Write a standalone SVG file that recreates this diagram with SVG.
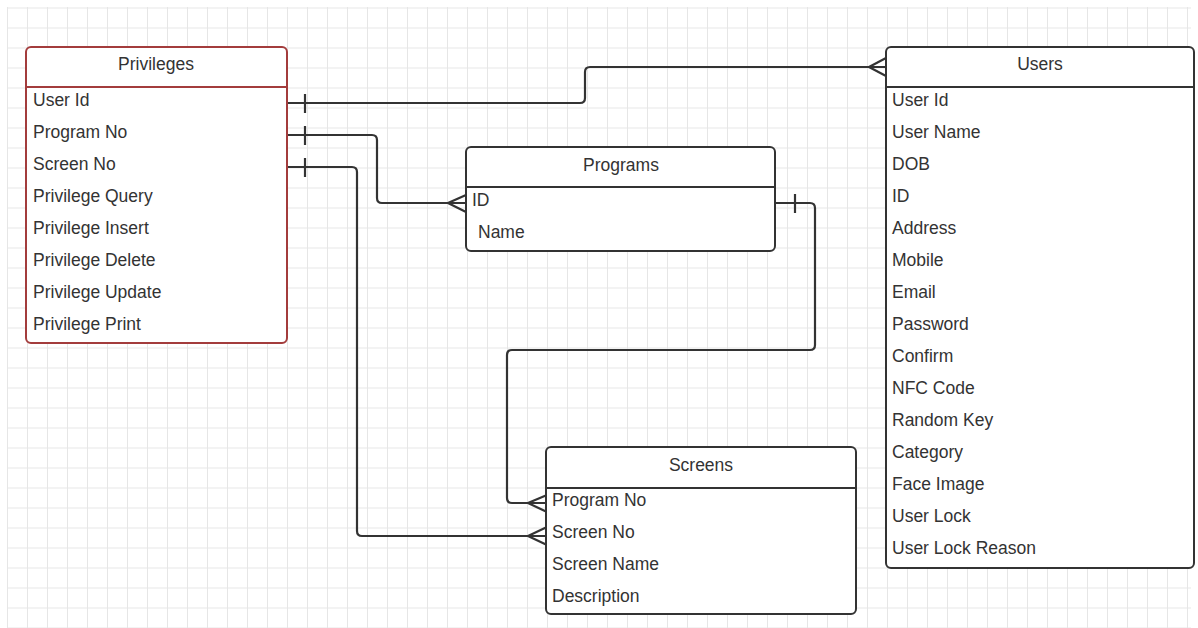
<svg xmlns="http://www.w3.org/2000/svg" width="1198" height="628" viewBox="0 0 1198 628">
<defs>
<pattern id="grid" x="7" y="7.5" width="20" height="20" patternUnits="userSpaceOnUse">
<path d="M0.5 0 V20 M0 0.5 H20" fill="none" stroke="#e6e6e6" stroke-width="1"/>
</pattern>
</defs>
<style>
text{font-family:"Liberation Sans",Arial,sans-serif;font-size:17.5px;fill:#333;dominant-baseline:central}
.title{text-anchor:middle}
.box{fill:#fff;stroke:#333;stroke-width:2}
.red{stroke:#a33c3c}
.sep{stroke:#333;stroke-width:2}
.sepr{stroke:#a33c3c;stroke-width:2}
.conn path{fill:none;stroke:#333;stroke-width:2.2;stroke-linejoin:round}
</style>
<rect x="0" y="0" width="1198" height="628" fill="#fff"/>
<rect x="7" y="7" width="1184" height="621" fill="url(#grid)"/>

<g class="conn" id="connectors">
<path d="M287 103 H580 Q585 103 585 98 V72 Q585 67 590 67 H885"/>
<path d="M305 94 V113"/>
<path d="M869 67 L886 58 M869 67 L886 76"/>

<path d="M287 135 H372 Q377 135 377 140 V198 Q377 203 382 203 H466"/>
<path d="M305 126 V145"/>
<path d="M448 203 L466 195 M448 203 L466 212"/>

<path d="M287 167 H352 Q357 167 357 172 V531 Q357 536 362 536 H546"/>
<path d="M305 158 V177"/>
<path d="M528 536 L547 527 M528 536 L547 545"/>

<path d="M775 203 H810 Q815 203 815 208 V345 Q815 350 810 350 H512 Q507 350 507 355 V498 Q507 503 512 503 H546"/>
<path d="M795 194 V213"/>
<path d="M528 503 L547 495 M528 503 L547 512"/>
</g>

<g id="privileges">
<rect class="box red" x="26" y="47" width="261" height="296" rx="5"/>
<line class="sepr" x1="26" y1="87" x2="287" y2="87"/>
<text class="title" x="156" y="64">Privileges</text>
<text x="33" y="100">User Id</text>
<text x="33" y="132">Program No</text>
<text x="33" y="164">Screen No</text>
<text x="33" y="196">Privilege Query</text>
<text x="33" y="228">Privilege Insert</text>
<text x="33" y="260">Privilege Delete</text>
<text x="33" y="292">Privilege Update</text>
<text x="33" y="324">Privilege Print</text>
</g>

<g id="users">
<rect class="box" x="886" y="47" width="308" height="521" rx="5"/>
<line class="sep" x1="886" y1="87" x2="1194" y2="87"/>
<text class="title" x="1040" y="64">Users</text>
<text x="892" y="100">User Id</text>
<text x="892" y="132">User Name</text>
<text x="892" y="164">DOB</text>
<text x="892" y="196">ID</text>
<text x="892" y="228">Address</text>
<text x="892" y="260">Mobile</text>
<text x="892" y="292">Email</text>
<text x="892" y="324">Password</text>
<text x="892" y="356">Confirm</text>
<text x="892" y="388">NFC Code</text>
<text x="892" y="420">Random Key</text>
<text x="892" y="452">Category</text>
<text x="892" y="484">Face Image</text>
<text x="892" y="516">User Lock</text>
<text x="892" y="548">User Lock Reason</text>
</g>

<g id="programs">
<rect class="box" x="466" y="147" width="309" height="104" rx="5"/>
<line class="sep" x1="466" y1="187" x2="775" y2="187"/>
<text class="title" x="621" y="165">Programs</text>
<text x="472" y="200">ID</text>
<text x="478" y="232">Name</text>
</g>

<g id="screens">
<rect class="box" x="546" y="447" width="310" height="167" rx="5"/>
<line class="sep" x1="546" y1="488" x2="856" y2="488"/>
<text class="title" x="701" y="465">Screens</text>
<text x="552" y="500">Program No</text>
<text x="552" y="532">Screen No</text>
<text x="552" y="564">Screen Name</text>
<text x="552" y="596">Description</text>
</g>
</svg>
